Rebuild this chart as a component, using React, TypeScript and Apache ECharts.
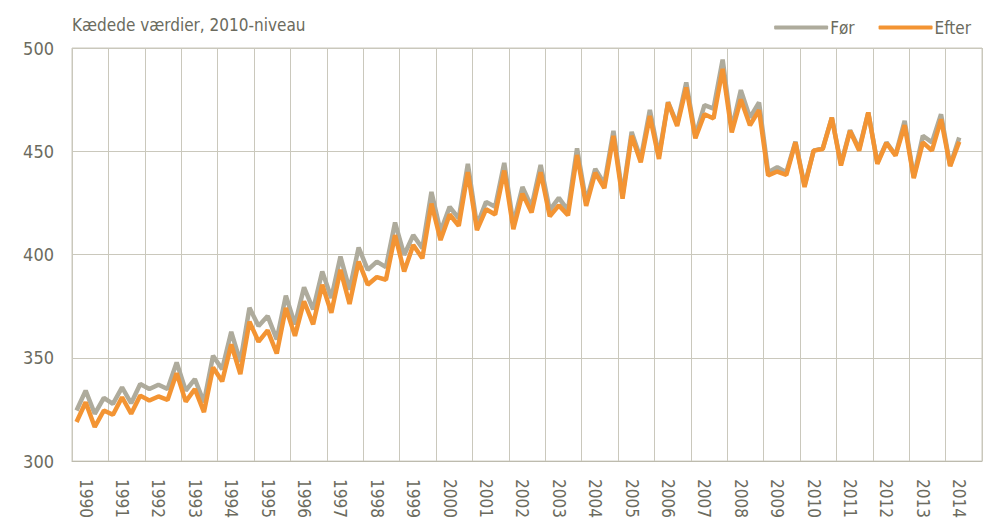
import React, { useEffect, useRef } from "react";
import * as echarts from "echarts";

const years: string[] = [];
for (let y = 1990; y <= 2014; y++) years.push(String(y));

const quarters: string[] = years.flatMap((y) => [y + "K1", y + "K2", y + "K3", y + "K4"]);

const before: number[] = [
  324.5, 334.1, 322.9, 330.6,
  327.7, 335.7, 328.0, 337.3,
  334.9, 337.0, 334.9, 347.7,
  334.1, 339.7, 328.5, 351.0,
  344.5, 362.6, 348.0, 374.2,
  365.4, 370.2, 358.9, 380.1,
  366.2, 384.1, 373.4, 391.8,
  379.0, 399.0, 383.0, 403.4,
  392.6, 396.6, 393.9, 415.5,
  399.8, 409.4, 403.0, 430.3,
  411.1, 423.1, 417.5, 443.9,
  414.2, 425.5, 423.1, 444.4,
  415.0, 432.7, 423.1, 443.4,
  421.5, 427.4, 421.4, 451.4,
  425.5, 441.5, 434.3, 459.9,
  428.7, 459.4, 446.3, 470.0,
  447.9, 473.8, 463.1, 483.3,
  457.5, 472.3, 470.7, 494.4,
  460.7, 479.6, 466.3, 473.6,
  439.9, 442.3, 439.9, 454.6,
  433.5, 450.3, 451.4, 466.3,
  443.9, 460.2, 451.1, 468.8,
  444.5, 454.3, 448.2, 464.7,
  437.5, 457.5, 454.3, 467.9,
  443.1, 456.7,
];

const after: number[] = [
  318.9, 328.5, 316.5, 324.5,
  322.4, 330.9, 322.9, 331.7,
  329.3, 331.3, 329.6, 342.6,
  328.8, 334.9, 323.7, 345.3,
  338.6, 356.5, 342.1, 367.5,
  357.8, 363.3, 352.1, 374.2,
  360.6, 377.4, 366.2, 385.4,
  371.8, 392.6, 376.1, 396.6,
  385.4, 389.1, 387.8, 409.4,
  391.8, 404.6, 398.2, 424.7,
  407.0, 419.4, 413.9, 439.9,
  411.8, 421.9, 419.4, 440.7,
  412.3, 429.5, 420.3, 439.9,
  418.5, 423.8, 419.0, 448.2,
  423.6, 439.6, 432.2, 457.5,
  427.1, 457.5, 444.7, 467.1,
  446.3, 473.6, 462.3, 480.9,
  456.3, 467.9, 465.9, 489.9,
  459.1, 475.1, 462.6, 469.9,
  438.3, 440.2, 438.6, 454.3,
  432.7, 450.3, 451.1, 466.3,
  443.1, 459.9, 450.3, 468.8,
  443.9, 454.0, 447.9, 462.6,
  437.0, 454.3, 450.3, 465.5,
  442.8, 454.6,
];

const yTicks = { min: 300, max: 500, interval: 50 };

const FONT = "'DejaVu Sans Condensed', 'Liberation Sans', sans-serif";
const TEXT = "#6b6b5e";
const GRID = "#cac8bc";
const GRAY = "#aeab9c";
const ORANGE = "#f39433";

export default function App() {
  const ref = useRef<HTMLDivElement>(null);
  useEffect(() => {
    if (!ref.current) return;
    const chart = echarts.init(ref.current, undefined, { renderer: "svg" });
    chart.setOption({
      animation: false,
      backgroundColor: "#ffffff",
      textStyle: { fontFamily: FONT },
      title: {
        text: "Kædede værdier, 2010-niveau",
        left: 67,
        top: 11,
        textStyle: { fontFamily: FONT, fontSize: 17, fontWeight: "normal", color: TEXT },
      },
      legend: {
        data: ["Før", "Efter"],
        right: 20,
        top: 14,
        icon: "roundRect",
        itemWidth: 54,
        itemHeight: 4,
        itemGap: 24,
        textStyle: { fontFamily: FONT, fontSize: 17, color: TEXT, padding: [0, 0, 0, -3] },
      },
      grid: {
        left: 72,
        right: 14,
        top: 48,
        bottom: 57,
        show: true,
        borderColor: GRID,
        borderWidth: 1,
      },
      xAxis: [
        {
          type: "category",
          data: quarters,
          boundaryGap: true,
          axisLine: { show: true, lineStyle: { color: "#bdbbae", width: 1 } },
          axisTick: { show: false },
          splitLine: { show: false },
          axisLabel: {
            interval: (index: number) => index % 4 === 1,
            formatter: (v: string) => v.slice(0, 4),
            rotate: -90,
            margin: 18,
            fontFamily: FONT,
            fontSize: 17,
            color: TEXT,
          },
        },
        {
          type: "category",
          data: years,
          boundaryGap: true,
          position: "bottom",
          axisLine: { show: false },
          axisTick: { show: false },
          axisLabel: { show: false },
          splitLine: { show: true, interval: 0, lineStyle: { color: GRID, width: 1 } },
        },
      ],
      yAxis: {
        type: "value",
        min: yTicks.min,
        max: yTicks.max,
        interval: yTicks.interval,
        axisLine: { show: false },
        axisTick: { show: false },
        splitLine: { show: true, lineStyle: { color: GRID, width: 1 } },
        axisLabel: { margin: 18, fontFamily: FONT, fontSize: 18, color: TEXT },
      },
      series: [
        {
          name: "Før",
          type: "line",
          xAxisIndex: 0,
          data: before,
          symbol: "none",
          lineStyle: { color: GRAY, width: 4.5 },
          itemStyle: { color: GRAY },
          z: 2,
        },
        {
          name: "Efter",
          type: "line",
          xAxisIndex: 0,
          data: after,
          symbol: "none",
          lineStyle: { color: ORANGE, width: 4.5 },
          itemStyle: { color: ORANGE },
          z: 3,
        },
      ],
    });
    return () => chart.dispose();
  }, []);
  return (
    <div
      ref={ref}
      style={{ position: "fixed", left: 0, top: 0, width: 996, height: 521 }}
    />
  );
}
